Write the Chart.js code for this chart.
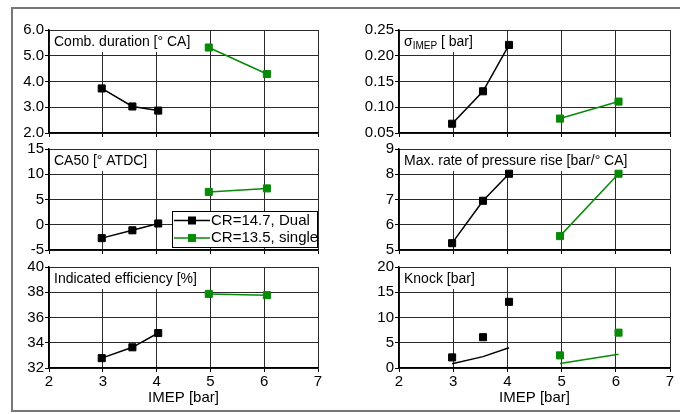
<!DOCTYPE html>
<html>
<head>
<meta charset="UTF-8">
<title>IMEP sweep</title>
<script src="https://cdn.jsdelivr.net/npm/chart.js"></script>
<style>
    html { overflow: hidden; }
    body { margin: 0; background: #fff; width: 680px; height: 414px; overflow: hidden; position: relative; }
    #frame { position: absolute; left: 11px; top: 7px; width: 669px; height: 405px; border: 2px solid #777; border-right: none; box-sizing: border-box; }
    canvas { position: absolute; }
</style>
</head>
<body>
<div id="frame"></div>
<canvas id="c1" width="330" height="123" style="left:0;top:20px"></canvas>
<canvas id="c2" width="330" height="121" style="left:0;top:139px"></canvas>
<canvas id="c3" width="330" height="155" style="left:0;top:257px"></canvas>
<canvas id="c4" width="340" height="123" style="left:340px;top:20px"></canvas>
<canvas id="c5" width="340" height="121" style="left:340px;top:139px"></canvas>
<canvas id="c6" width="340" height="155" style="left:340px;top:257px"></canvas>
<script>
// IMEP [bar] for the two engine setups
const imepDual = [2.98, 3.55, 4.03];
const imepSingle = [4.97, 6.05];

// measured quantities
const combDual = [3.73, 3.03, 2.87];
const combSingle = [5.32, 4.29];
const sigmaDual = [0.068, 0.131, 0.221];
const sigmaSingle = [0.078, 0.111];
const ca50Dual = [-2.65, -1.1, 0.25];
const ca50Single = [6.5, 7.2];
const dpDual = [5.27, 6.95, 8.02];
const dpSingle = [5.55, 8.02];
const effDual = [32.78, 33.64, 34.77];
const effSingle = [37.87, 37.77];
const knockDual = [2.1, 6.1, 13.1];
const knockSingle = [2.5, 7.0];
const knockLineDual = [0.85, 2.25, 4.0];
const knockLineSingle = [0.9, 2.7];

const seriesNames = ['CR=14.7, Dual', 'CR=13.5, single'];
const black = '#000000';
const green = '#078a07';
const FONT = "'Liberation Sans', Arial, sans-serif";

function pts(xs, ys) {
    return xs.map((x, i) => ({ x: x, y: ys[i] }));
}

function series(xs, ys, color, name) {
    return {
        label: name, data: pts(xs, ys), showLine: true,
        borderColor: color, backgroundColor: color, borderWidth: 1.5,
        pointStyle: 'rect', pointRadius: 5, pointBorderWidth: 1
    };
}

// panel title with white box, optional subscript part
const panelLabel = {
    id: 'panelLabel',
    beforeDatasetsDraw(chart, args, opts) {
        if (!opts.parts) return;
        const ctx = chart.ctx;
        const a = chart.chartArea;
        ctx.save();
        let w = 0;
        opts.parts.forEach(p => {
            ctx.font = (p.sub ? 10 : 14) + 'px ' + FONT;
            w += ctx.measureText(p.t).width;
        });
        ctx.fillStyle = '#fff';
        ctx.fillRect(a.left + 1, a.top + 1, w + 8, 21);
        let x = a.left + 5;
        ctx.fillStyle = '#000';
        ctx.textBaseline = 'middle';
        opts.parts.forEach(p => {
            ctx.font = (p.sub ? 10 : 14) + 'px ' + FONT;
            ctx.fillText(p.t, x, a.top + 12 + (p.sub ? 4 : 0));
            x += ctx.measureText(p.t).width;
        });
        ctx.restore();
    }
};

// boxed legend in the CA50 panel
const boxLegend = {
    id: 'boxLegend',
    afterDraw(chart, args, opts) {
        if (!opts.show) return;
        const ctx = chart.ctx;
        const a = chart.chartArea;
        const x0 = a.left + 123, y0 = a.top + 62, w = a.right - x0, h = 37;
        ctx.save();
        ctx.fillStyle = '#fff';
        ctx.fillRect(x0, y0, w, h);
        ctx.strokeStyle = '#000';
        ctx.lineWidth = 1;
        ctx.strokeRect(x0 + 0.5, y0 + 0.5, w - 1, h - 1);
        ctx.font = '15px ' + FONT;
        ctx.textBaseline = 'middle';
        [black, green].forEach((c, i) => {
            const y = y0 + 9.5 + i * 17.5;
            ctx.strokeStyle = c;
            ctx.lineWidth = 1.5;
            ctx.beginPath();
            ctx.moveTo(x0 + 2, y);
            ctx.lineTo(x0 + 38, y);
            ctx.stroke();
            ctx.fillStyle = c;
            ctx.fillRect(x0 + 16, y - 4, 8, 8);
            ctx.fillStyle = '#000';
            ctx.fillText(seriesNames[i], x0 + 39, y);
        });
        ctx.restore();
    }
};

function makeChart(id, opt) {
    const bottom = opt.bottom;
    new Chart(document.getElementById(id), {
        type: 'scatter',
        data: { datasets: opt.datasets },
        options: {
            responsive: false,
            animation: false,
            layout: { padding: { top: 10, right: opt.right, bottom: bottom ? 0 : 10, left: 0 } },
            plugins: {
                legend: { display: false },
                tooltip: { enabled: false },
                panelLabel: { parts: opt.label },
                boxLegend: { show: !!opt.legend }
            },
            scales: {
                x: {
                    type: 'linear', min: 2, max: 7,
                    ticks: { display: bottom, stepSize: 1, color: '#000', padding: 1, font: { family: FONT, size: 15 } },
                    grid: { color: '#2a2a2a', lineWidth: 1, drawTicks: bottom, tickLength: 4, tickColor: '#000' },
                    border: { display: true, color: '#000', width: 1.5 },
                    title: { display: bottom, text: 'IMEP [bar]', color: '#000', font: { family: FONT, size: 15 }, padding: { top: 0, bottom: 5 } },
                    afterFit: s => { s.height = bottom ? 44 : 0; }
                },
                y: {
                    min: opt.min, max: opt.max,
                    ticks: { stepSize: opt.step, color: '#000', padding: 1, font: { family: FONT, size: 15 },
                        callback: v => opt.fmt ? v.toFixed(opt.fmt) : v },
                    grid: { color: '#2a2a2a', lineWidth: 1, tickLength: 4, tickColor: '#000' },
                    border: { display: true, color: '#000', width: 1.5 },
                    afterFit: s => { s.width = opt.yw; }
                }
            }
        },
        plugins: [panelLabel, boxLegend]
    });
}

const L = { yw: 49, right: 12 };
const R = { yw: 59, right: 10 };

makeChart('c1', Object.assign({}, L, {
    min: 2, max: 6, step: 1, fmt: 1,
    label: [{ t: 'Comb. duration [° CA]' }],
    datasets: [series(imepDual, combDual, black, seriesNames[0]), series(imepSingle, combSingle, green, seriesNames[1])]
}));
makeChart('c2', Object.assign({}, L, {
    min: -5, max: 15, step: 5, legend: true,
    label: [{ t: 'CA50 [° ATDC]' }],
    datasets: [series(imepDual, ca50Dual, black, seriesNames[0]), series(imepSingle, ca50Single, green, seriesNames[1])]
}));
makeChart('c3', Object.assign({}, L, {
    min: 32, max: 40, step: 2, bottom: true,
    label: [{ t: 'Indicated efficiency [%]' }],
    datasets: [series(imepDual, effDual, black, seriesNames[0]), series(imepSingle, effSingle, green, seriesNames[1])]
}));
makeChart('c4', Object.assign({}, R, {
    min: 0.05, max: 0.25, step: 0.05, fmt: 2,
    label: [{ t: 'σ' }, { t: 'IMEP', sub: true }, { t: ' [ bar]' }],
    datasets: [series(imepDual, sigmaDual, black, seriesNames[0]), series(imepSingle, sigmaSingle, green, seriesNames[1])]
}));
makeChart('c5', Object.assign({}, R, {
    min: 5, max: 9, step: 1,
    label: [{ t: 'Max. rate of pressure rise [bar/° CA]' }],
    datasets: [series(imepDual, dpDual, black, seriesNames[0]), series(imepSingle, dpSingle, green, seriesNames[1])]
}));

const knockMarkD = series(imepDual, knockDual, black, seriesNames[0]);
knockMarkD.showLine = false;
const knockMarkS = series(imepSingle, knockSingle, green, seriesNames[1]);
knockMarkS.showLine = false;
const knockLineD = series(imepDual, knockLineDual, black, seriesNames[0]);
knockLineD.pointRadius = 0;
const knockLineS = series(imepSingle, knockLineSingle, green, seriesNames[1]);
knockLineS.pointRadius = 0;

makeChart('c6', Object.assign({}, R, {
    min: 0, max: 20, step: 5, bottom: true,
    label: [{ t: 'Knock [bar]' }],
    datasets: [knockLineD, knockLineS, knockMarkD, knockMarkS]
}));
</script>
</body>
</html>
